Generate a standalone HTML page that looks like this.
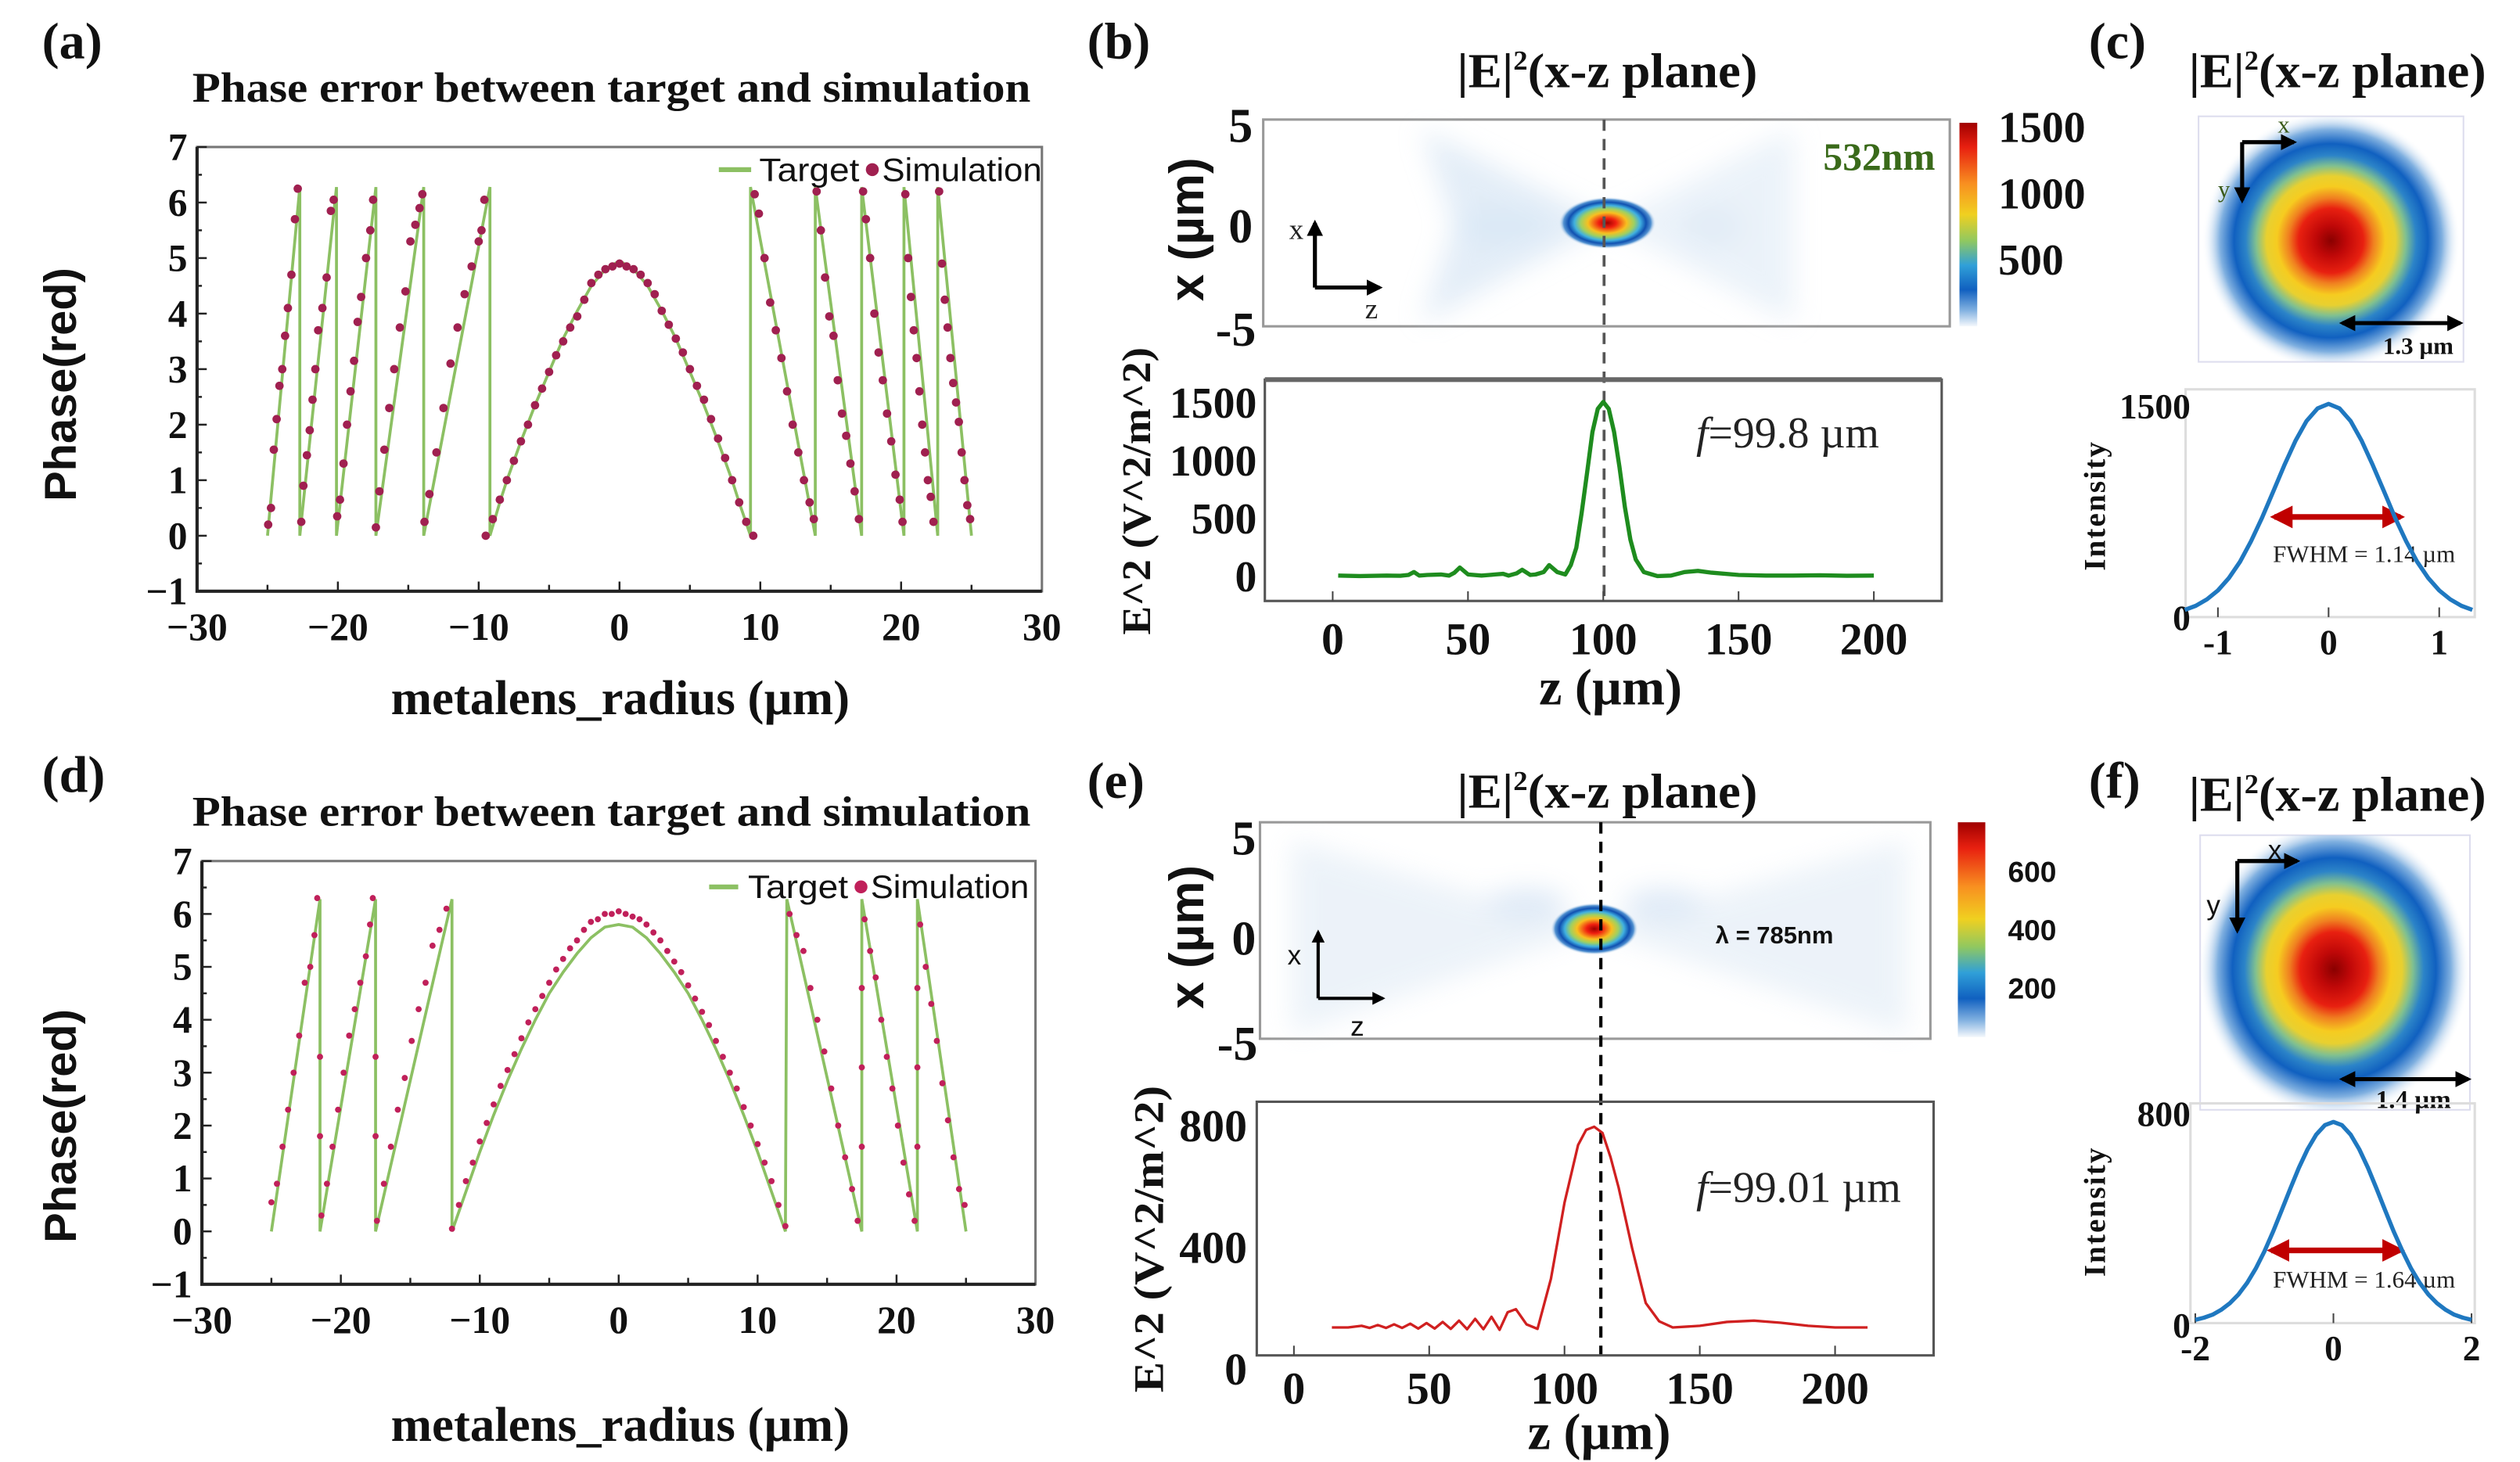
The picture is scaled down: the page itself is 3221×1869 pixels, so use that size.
<!DOCTYPE html>
<html><head><meta charset="utf-8"><title>Metalens phase and focusing figure</title>
<style>
html,body{margin:0;padding:0;background:#fff;}
svg{display:block;}
.serif{font-family:"Liberation Serif",serif;font-weight:bold;fill:#111;}
.sans{font-family:"Liberation Sans",sans-serif;font-weight:bold;fill:#111;}
.reg{font-family:"Liberation Serif",serif;fill:#222;}
</style></head>
<body>
<svg id="fig" xmlns="http://www.w3.org/2000/svg" width="3221" height="1869" viewBox="0 0 1560 905" preserveAspectRatio="none">
<defs>
  <linearGradient id="jetV" x1="0" y1="0" x2="0" y2="1">
    <stop offset="0" stop-color="#a00000"/><stop offset="0.12" stop-color="#e82010"/>
    <stop offset="0.3" stop-color="#f89020"/><stop offset="0.45" stop-color="#f0d020"/>
    <stop offset="0.58" stop-color="#90c860"/><stop offset="0.7" stop-color="#30a0d8"/>
    <stop offset="0.82" stop-color="#1060c0"/><stop offset="0.92" stop-color="#80b0e0"/>
    <stop offset="1" stop-color="#f4f8fc"/>
  </linearGradient>
  <radialGradient id="spot">
    <stop offset="0" stop-color="#a00000"/><stop offset="0.18" stop-color="#f02010"/>
    <stop offset="0.4" stop-color="#f8c020"/><stop offset="0.55" stop-color="#a0d060"/>
    <stop offset="0.68" stop-color="#40b0e0"/><stop offset="0.8" stop-color="#1050b0"/>
    <stop offset="0.9" stop-color="#5090d0"/><stop offset="1" stop-color="#e0ecf8" stop-opacity="0"/>
  </radialGradient>
  <radialGradient id="beam">
    <stop offset="0" stop-color="#8a0000"/><stop offset="0.12" stop-color="#c00808"/>
    <stop offset="0.25" stop-color="#e82010"/><stop offset="0.33" stop-color="#f08020"/>
    <stop offset="0.42" stop-color="#f6cc20"/><stop offset="0.5" stop-color="#e8d030"/>
    <stop offset="0.58" stop-color="#80c090"/><stop offset="0.66" stop-color="#2c84c8"/>
    <stop offset="0.75" stop-color="#1060c0"/><stop offset="0.86" stop-color="#80b0e0"/>
    <stop offset="1" stop-color="#ffffff" stop-opacity="0"/>
  </radialGradient>
  <clipPath id="clipC"><rect x="1361" y="72" width="164" height="152"/></clipPath>
  <clipPath id="clipF"><rect x="1362" y="517" width="167" height="170"/></clipPath>
  <filter id="blur8"><feGaussianBlur stdDeviation="8"/></filter>
  <marker id="ah" viewBox="0 0 10 10" refX="8" refY="5" markerWidth="4" markerHeight="4" orient="auto-start-reverse"><path d="M0,0 L10,5 L0,10 z" fill="#000"/></marker>
  <marker id="ahr" viewBox="0 0 10 10" refX="8" refY="5" markerWidth="4" markerHeight="4" orient="auto-start-reverse"><path d="M0,0 L10,5 L0,10 z" fill="#c00000"/></marker>
</defs>

<text class="serif" x="26" y="36" font-size="32">(a)</text>
<text class="serif" x="119" y="63" font-size="26" textLength="519" lengthAdjust="spacingAndGlyphs">Phase error between target and simulation</text>
<text class="serif" x="26" y="490" font-size="32">(d)</text>
<text class="serif" x="119" y="511" font-size="26" textLength="519" lengthAdjust="spacingAndGlyphs">Phase error between target and simulation</text>
<text class="serif" x="673" y="36" font-size="32">(b)</text>
<text class="serif" x="673" y="494" font-size="32">(e)</text>
<text class="serif" x="1293" y="36" font-size="32">(c)</text>
<text class="serif" x="1293" y="494" font-size="32">(f)</text>
<text class="serif" x="902" y="54" font-size="30" textLength="186" lengthAdjust="spacingAndGlyphs">|E|<tspan dy="-11" font-size="17">2</tspan><tspan dy="11">(x-z plane)</tspan></text>
<text class="serif" x="1355" y="54" font-size="30" textLength="184" lengthAdjust="spacingAndGlyphs">|E|<tspan dy="-11" font-size="17">2</tspan><tspan dy="11">(x-z plane)</tspan></text>
<text class="serif" x="902" y="500" font-size="30" textLength="186" lengthAdjust="spacingAndGlyphs">|E|<tspan dy="-11" font-size="17">2</tspan><tspan dy="11">(x-z plane)</tspan></text>
<text class="serif" x="1355" y="502" font-size="30" textLength="184" lengthAdjust="spacingAndGlyphs">|E|<tspan dy="-11" font-size="17">2</tspan><tspan dy="11">(x-z plane)</tspan></text>

<text class="serif" x="384" y="442" font-size="30" text-anchor="middle" textLength="284" lengthAdjust="spacingAndGlyphs">metalens_radius (µm)</text>
<text class="serif" x="384" y="892" font-size="30" text-anchor="middle" textLength="284" lengthAdjust="spacingAndGlyphs">metalens_radius (µm)</text>
<text class="sans" transform="translate(47,238) rotate(-90)" font-size="28" text-anchor="middle">Phase(red)</text>
<text class="sans" transform="translate(47,697) rotate(-90)" font-size="28" text-anchor="middle">Phase(red)</text>

<g>
  <line x1="445" y1="105" x2="465" y2="105" stroke="#8cc063" stroke-width="3"/>
  <text class="sans" x="470" y="112" font-size="20" textLength="62" lengthAdjust="spacingAndGlyphs" style="font-weight:normal">Target</text>
  <circle cx="540" cy="105" r="4" fill="#a02050"/>
  <text class="sans" x="546" y="112" font-size="20" textLength="99" lengthAdjust="spacingAndGlyphs" style="font-weight:normal">Simulation</text>
</g>
<g>
  <line x1="439" y1="549" x2="457" y2="549" stroke="#8cc063" stroke-width="3"/>
  <text class="sans" x="463" y="556" font-size="20" textLength="62" lengthAdjust="spacingAndGlyphs" style="font-weight:normal">Target</text>
  <circle cx="533" cy="549" r="4" fill="#c0205a"/>
  <text class="sans" x="539" y="556" font-size="20" textLength="98" lengthAdjust="spacingAndGlyphs" style="font-weight:normal">Simulation</text>
</g>

<g>
  <rect x="782" y="74" width="425" height="128" fill="#fff" stroke="#999" stroke-width="1.5"/>
  <g filter="url(#blur8)" opacity="0.5">
    <polygon points="880,80 995,138 880,200 900,140" fill="#c8dcf0"/>
    <polygon points="995,138 1110,80 1110,200" fill="#d8e6f4"/>
    <ellipse cx="930" cy="140" rx="30" ry="12" fill="#b8d4ee"/>
    <ellipse cx="1060" cy="140" rx="20" ry="14" fill="#c8dcf0"/>
  </g>
  <ellipse cx="995" cy="138" rx="30" ry="16" fill="url(#spot)"/>
  <rect x="1213" y="76" width="11" height="126" fill="url(#jetV)"/>
  <text class="serif" x="1237" y="88" font-size="27">1500</text>
  <text class="serif" x="1237" y="129" font-size="27">1000</text>
  <text class="serif" x="1237" y="170" font-size="27">500</text>
  <text class="serif" x="1198" y="105" font-size="24" text-anchor="end" style="fill:#3a6a1a">532nm</text>
  <text class="serif" x="768" y="88" font-size="30" text-anchor="middle">5</text>
  <text class="serif" x="768" y="150" font-size="30" text-anchor="middle">0</text>
  <text class="serif" x="765" y="214" font-size="30" text-anchor="middle">-5</text>
  <text class="sans" transform="translate(745,142) rotate(-90)" font-size="30" text-anchor="middle">x (µm)</text>
  <line x1="814" y1="178" x2="814" y2="138" stroke="#000" stroke-width="2.5" marker-end="url(#ah)"/>
  <line x1="814" y1="178" x2="854" y2="178" stroke="#000" stroke-width="2.5" marker-end="url(#ah)"/>
  <text class="reg" x="798" y="148" font-size="18">x</text>
  <text class="reg" x="845" y="197" font-size="18">z</text>
</g>
<line x1="993" y1="74" x2="993" y2="372" stroke="#555" stroke-width="1.8" stroke-dasharray="7,5"/>

<g>
  <rect x="780" y="509" width="415" height="134" fill="#fff" stroke="#999" stroke-width="1.5"/>
  <g filter="url(#blur8)" opacity="0.45">
    <polygon points="800,520 987,575 800,640" fill="#d6e4f2"/>
    <polygon points="987,575 1180,520 1180,640" fill="#d6e4f2"/>
    <ellipse cx="1030" cy="560" rx="25" ry="10" fill="#b8d0ec"/>
    <ellipse cx="945" cy="560" rx="25" ry="10" fill="#b8d0ec"/>
  </g>
  <ellipse cx="987" cy="575" rx="27" ry="16" fill="url(#spot)"/>
  <rect x="1212" y="509" width="17" height="133" fill="url(#jetV)"/>
  <text class="sans" x="1243" y="546" font-size="18">600</text>
  <text class="sans" x="1243" y="582" font-size="18">400</text>
  <text class="sans" x="1243" y="618" font-size="18">200</text>
  <text class="sans" x="1062" y="584" font-size="15">λ = 785nm</text>
  <text class="serif" x="770" y="529" font-size="30" text-anchor="middle">5</text>
  <text class="serif" x="770" y="591" font-size="30" text-anchor="middle">0</text>
  <text class="serif" x="766" y="656" font-size="30" text-anchor="middle">-5</text>
  <text class="sans" transform="translate(745,580) rotate(-90)" font-size="30" text-anchor="middle">x (µm)</text>
  <line x1="816" y1="618" x2="816" y2="577" stroke="#000" stroke-width="2" marker-end="url(#ah)"/>
  <line x1="816" y1="618" x2="856" y2="618" stroke="#000" stroke-width="2" marker-end="url(#ah)"/>
  <text class="sans" x="797" y="597" font-size="17" style="font-weight:normal">x</text>
  <text class="sans" x="836" y="641" font-size="17" style="font-weight:normal">z</text>
</g>
<line x1="991" y1="509" x2="991" y2="839" stroke="#000" stroke-width="2" stroke-dasharray="7,5"/>

<g>
  <rect x="1361" y="72" width="164" height="152" fill="#ffffff" stroke="#dde" stroke-width="1"/>
  <g clip-path="url(#clipC)"><ellipse cx="1443" cy="149" rx="80" ry="80" fill="url(#beam)"/></g>
  <line x1="1388" y1="88" x2="1420" y2="88" stroke="#000" stroke-width="2.5" marker-end="url(#ah)"/>
  <line x1="1388" y1="88" x2="1388" y2="124" stroke="#000" stroke-width="2.5" marker-end="url(#ah)"/>
  <text class="reg" x="1410" y="82" font-size="15" style="fill:#3a5a1a">x</text>
  <text class="reg" x="1373" y="122" font-size="15" style="fill:#3a5a1a">y</text>
  <line x1="1450" y1="200" x2="1523" y2="200" stroke="#000" stroke-width="2.5" marker-start="url(#ah)" marker-end="url(#ah)"/>
  <text class="serif" x="1497" y="219" font-size="15" text-anchor="middle">1.3 µm</text>
</g>
<g>
  <rect x="1362" y="517" width="167" height="170" fill="#ffffff" stroke="#dde" stroke-width="1"/>
  <g clip-path="url(#clipF)"><ellipse cx="1445" cy="600" rx="84" ry="92" fill="url(#beam)"/></g>
  <line x1="1385" y1="533" x2="1422" y2="533" stroke="#000" stroke-width="2.5" marker-end="url(#ah)"/>
  <line x1="1385" y1="533" x2="1385" y2="576" stroke="#000" stroke-width="2.5" marker-end="url(#ah)"/>
  <text class="sans" x="1404" y="532" font-size="17" style="font-weight:normal">x</text>
  <text class="sans" x="1366" y="566" font-size="17" style="font-weight:normal">y</text>
  <line x1="1450" y1="668" x2="1528" y2="668" stroke="#000" stroke-width="2.5" marker-start="url(#ah)" marker-end="url(#ah)"/>
  <text class="serif" x="1494" y="686" font-size="16" text-anchor="middle">1.4 µm</text>
</g>

<text class="serif" x="997" y="436" font-size="32" text-anchor="middle">z (µm)</text>
<text class="serif" x="990" y="897" font-size="32" text-anchor="middle">z (µm)</text>
<text class="serif" transform="translate(712,304) rotate(-90)" font-size="25" text-anchor="middle" textLength="178" lengthAdjust="spacingAndGlyphs">E^2 (V^2/m^2)</text>
<text class="serif" transform="translate(720,767) rotate(-90)" font-size="26" text-anchor="middle" textLength="190" lengthAdjust="spacingAndGlyphs">E^2 (V^2/m^2)</text>
<text class="reg" x="1050" y="277" font-size="27"><tspan font-style="italic">f</tspan>=99.8 µm</text>
<text class="reg" x="1050" y="744" font-size="27"><tspan font-style="italic">f</tspan>=99.01 µm</text>
<text class="serif" transform="translate(1303,313) rotate(-90)" font-size="19" text-anchor="middle" letter-spacing="1">Intensity</text>
<text class="serif" transform="translate(1303,750) rotate(-90)" font-size="19" text-anchor="middle" letter-spacing="1">Intensity</text>
<line x1="1408" y1="320" x2="1486" y2="320" stroke="#c00000" stroke-width="3.5" marker-start="url(#ahr)" marker-end="url(#ahr)"/>
<text class="reg" x="1407" y="348" font-size="15">FWHM = 1.14 µm</text>
<line x1="1406" y1="774" x2="1486" y2="774" stroke="#c00000" stroke-width="3.5" marker-start="url(#ahr)" marker-end="url(#ahr)"/>
<text class="reg" x="1407" y="797" font-size="15">FWHM = 1.64 µm</text>

<g id="dyn"></g>
</svg>

<script>
const aXTicks = [-30,-20,-10,0,10,20,30];
const aYTicks = [-1,0,1,2,3,4,5,6,7];
const aTargetX = [-25,-22.7,-22.7,-20.1,-20.1,-17.3,-17.3,-13.9,-13.9,-9.2,-9.2,-8.5,-8,-7,-6,-5,-4,-3,-2,-1,0,1,2,3,4,5,6,7,8,8.5,9.3,9.3,13.9,13.9,17.2,17.2,20.2,20.2,22.6,22.6,25];
const aTargetY = [0,6.28,0,6.28,0,6.28,0,6.28,0,6.28,0,0.6,1.0,1.7,2.35,2.95,3.55,4.05,4.5,4.8,4.95,4.8,4.5,4.05,3.55,2.95,2.35,1.7,1.0,0.6,0,6.28,0,6.28,0,6.28,0,6.28,0,6.28,0];
const aSimX = [-24.95,-24.75,-24.55,-24.35,-24.15,-23.95,-23.75,-23.55,-23.3,-23.05,-22.85,
 -22.6,-22.45,-22.2,-22.0,-21.8,-21.6,-21.4,-21.1,-20.8,-20.5,-20.3,
 -20.05,-19.85,-19.6,-19.35,-19.1,-18.85,-18.6,-18.35,-18.0,-17.7,-17.5,
 -17.3,-17.05,-16.7,-16.35,-16.0,-15.6,-15.2,-14.85,-14.5,-14.2,-14.0,
 -13.85,-13.5,-13.0,-12.5,-12.0,-11.5,-11.0,-10.5,-10.0,-9.8,-9.6,
 -9.5,-9,-8.5,-8,-7.5,-7,-6.5,-6,-5.5,-5,-4.5,-4,-3.5,-3,-2.5,-2,-1.5,-1,-0.5,0,0.5,1,1.5,2,2.5,3,3.5,4,4.5,5,5.5,6,6.5,7,7.5,8,8.5,9,9.5,
 9.6,9.9,10.3,10.7,11.1,11.5,11.9,12.3,12.7,13.1,13.5,13.8,
 14.0,14.3,14.6,14.9,15.2,15.5,15.8,16.1,16.4,16.7,17.0,
 17.3,17.5,17.8,18.1,18.4,18.7,19.0,19.3,19.6,19.9,20.1,
 20.3,20.5,20.7,20.9,21.1,21.3,21.5,21.7,21.9,22.1,22.3,
 22.7,22.9,23.1,23.3,23.5,23.7,23.9,24.1,24.3,24.5,24.7,24.9];
const aSimY = [0.2,0.5,1.55,2.1,2.7,3.0,3.6,4.1,4.7,5.7,6.25,
 0.25,0.9,1.45,1.9,2.45,3.0,3.7,4.1,4.65,5.85,6.05,
 0.35,0.65,1.3,2.0,2.6,3.15,3.85,4.3,5.0,5.5,6.05,
 0.15,0.8,1.55,2.3,3.0,3.75,4.4,5.3,5.6,5.9,6.15,
 0.25,0.75,1.5,2.3,3.1,3.75,4.35,4.85,5.3,5.5,6.05,
 0.0,0.3,0.65,1.0,1.35,1.7,2.0,2.35,2.65,2.95,3.25,3.5,3.75,3.95,4.25,4.55,4.7,4.8,4.85,4.9,4.85,4.8,4.7,4.55,4.35,4.05,3.8,3.55,3.3,3.0,2.7,2.45,2.1,1.75,1.4,1.0,0.6,0.25,0.0,
 6.15,5.8,5.0,4.2,3.7,3.2,2.6,2.0,1.5,1.0,0.6,0.3,
 6.2,5.5,4.65,3.95,3.6,2.8,2.2,1.8,1.3,0.8,0.3,
 6.2,5.7,5.0,4.0,3.3,2.8,2.2,1.7,1.1,0.65,0.25,
 6.15,5.0,4.3,3.7,3.2,2.6,2.0,1.5,1.0,0.7,0.25,
 6.2,4.9,4.25,3.75,3.2,2.75,2.4,2.05,1.5,1.0,0.55,0.3];

const dTargetX = [-25,-21.5,-21.5,-17.5,-17.5,-12,-12,-11,-10,-9,-8,-7,-6,-5,-4,-3,-2,-1,0,1,2,3,4,5,6,7,8,9,10,11,12,12.1,17.5,17.5,21.5,21.5,25];
const dTargetY = [0,6.28,0,6.28,0,6.28,0,0.75,1.5,2.2,2.85,3.45,4.0,4.5,4.9,5.25,5.55,5.75,5.8,5.75,5.55,5.25,4.9,4.5,4.0,3.45,2.85,2.2,1.5,0.75,0,6.28,0,6.28,0,6.28,0];
const dSimX = [-25,-24.6,-24.2,-23.8,-23.4,-23.0,-22.6,-22.2,-21.9,-21.7,-21.5,-21.5,
 -21.4,-21.0,-20.6,-20.2,-19.8,-19.4,-19.0,-18.6,-18.2,-17.9,-17.7,-17.5,-17.5,
 -17.4,-16.9,-16.4,-15.9,-15.4,-14.9,-14.4,-13.9,-13.4,-12.9,-12.4,
 -12,-11.5,-11,-10.5,-10,-9.5,-9,-8.5,-8,-7.5,-7,-6.5,-6,-5.5,-5,-4.5,-4,-3.5,-3,-2.5,-2,-1.5,-1,-0.5,0,0.5,1,1.5,2,2.5,3,3.5,4,4.5,5,5.5,6,6.5,7,7.5,8,8.5,9,9.5,10,10.5,11,11.5,12,
 12.3,12.8,13.3,13.8,14.3,14.8,15.3,15.8,16.3,16.8,17.2,17.5,17.5,17.5,
 17.7,18.1,18.5,18.9,19.3,19.7,20.1,20.5,20.9,21.3,21.5,21.5,21.5,
 21.7,22.1,22.5,22.9,23.3,23.7,24.1,24.5,24.9];
const dSimY = [0.55,0.9,1.6,2.3,3.0,3.7,4.7,5.0,5.6,6.3,3.3,1.8,
 0.3,0.9,1.6,2.3,3.0,3.7,4.2,4.7,5.2,5.8,6.3,3.3,1.8,
 0.2,0.9,1.6,2.3,2.9,3.6,4.2,4.7,5.4,5.7,6.1,
 0.05,0.5,0.95,1.3,1.7,2.05,2.4,2.75,3.05,3.35,3.65,3.95,4.2,4.45,4.7,4.95,5.15,5.35,5.5,5.7,5.85,5.9,6.0,6.0,6.05,6.0,5.95,5.9,5.8,5.65,5.5,5.3,5.1,4.9,4.65,4.4,4.15,3.9,3.6,3.3,3.0,2.7,2.35,2.0,1.65,1.3,0.95,0.5,0.1,
 6.0,5.6,5.3,4.6,4.0,3.4,2.7,2.0,1.4,0.8,0.2,4.6,3.1,1.6,
 5.9,5.3,4.8,4.0,3.3,2.7,2.0,1.3,0.7,0.2,4.6,3.1,1.6,
 5.8,5.0,4.3,3.6,2.8,2.1,1.4,0.8,0.5];

const bXTicks = [0,50,100,150,200];
const bYTicks = [0,500,1000,1500];
const bZ = [2,10,20,25,28,30,32,35,40,43,45,47,50,55,58,60,63,65,68,70,73,75,78,80,83,86,88,90,92,94,96,98,100,102,104,106,108,110,112,115,118,120,125,130,135,140,150,160,170,180,190,200];
const bE = [10,5,10,8,15,40,10,15,20,10,35,80,20,10,15,20,25,10,30,60,15,20,40,100,40,20,100,250,550,900,1250,1450,1510,1450,1250,950,600,320,150,40,20,5,10,40,50,35,15,10,10,12,8,10];

const eXTicks = [0,50,100,150,200];
const eYTicks = [0,400,800];
const eZ = [14,20,25,28,31,34,37,40,43,46,49,52,55,58,61,64,67,70,73,76,79,82,86,90,95,100,105,108,111,114,117,120,125,130,135,140,150,160,170,180,190,200,212];
const eE = [140,140,145,138,148,138,150,138,152,136,154,136,158,135,162,134,168,134,175,132,190,200,150,135,300,550,740,790,800,780,700,600,400,220,160,140,145,158,162,155,145,140,140];

const cXTicks = [-1,0,1];
const cYTicks = [0,1500];
const cX = [-1.3,-1.2,-1.1,-1.0,-0.9,-0.8,-0.7,-0.6,-0.5,-0.4,-0.3,-0.2,-0.1,0,0.1,0.2,0.3,0.4,0.5,0.6,0.7,0.8,0.9,1.0,1.1,1.2,1.3];
const cI = [40,69,114,177,266,381,527,695,880,1065,1238,1377,1468,1500,1468,1377,1238,1065,880,695,527,381,266,177,114,69,40];

const fXTicks = [-2,0,2];
const fYTicks = [0,800];
const fX = [-2,-1.875,-1.75,-1.625,-1.5,-1.375,-1.25,-1.125,-1,-0.875,-0.75,-0.625,-0.5,-0.375,-0.25,-0.125,0,0.125,0.25,0.375,0.5,0.625,0.75,0.875,1,1.125,1.25,1.375,1.5,1.625,1.75,1.875,2];
const fI = [12,20,32,50,75,108,152,206,271,345,425,508,587,657,712,748,760,748,712,657,587,508,425,345,271,206,152,108,75,50,32,20,12];

const NS = 'http://www.w3.org/2000/svg';
const root = document.getElementById('dyn');
function mk(tag, attrs){ const e=document.createElementNS(NS,tag); for(const k in attrs) e.setAttribute(k,attrs[k]); root.appendChild(e); return e; }
function lin(d0,d1,r0,r1){ return v => r0 + (v-d0)/(d1-d0)*(r1-r0); }
function fmtMinus(v){ return v<0 ? '\u2212'+Math.abs(v) : String(v); }

function phasePanel(tag, box, tx, ty, sx, sy, simColor, dotR){
  const X = lin(-30,30,box.x0,box.x1), Y = lin(-1,7,box.y1,box.y0);
  const fr = mk('rect',{x:box.x0,y:box.y0,width:box.x1-box.x0,height:box.y1-box.y0,fill:'none',stroke:'#777','stroke-width':1.5});
  
  
  const ax = mk('path',{d:`M${box.x0},${box.y0} V${box.y1} H${box.x1}`,fill:'none',stroke:'#222','stroke-width':2});
  
  
  for(let v=-1; v<=7.001; v+=0.5){
    const tk = mk('line',{x1:box.x0,x2:box.x0+(Number.isInteger(v)?6:3),y1:Y(v),y2:Y(v),stroke:'#222','stroke-width':1.2});
    
    
  }
  for(let v=-25; v<=25; v+=5){
    const tk = mk('line',{x1:X(v),x2:X(v),y1:box.y1,y2:box.y1-(v%10===0?6:4),stroke:'#222','stroke-width':1.2});
    
    
  }
  aYTicks.forEach(v=>{
    const t = mk('text',{x:box.x0-6,y:Y(v)+8,'font-size':24,'text-anchor':'end',class:'serif'});
    t.textContent = fmtMinus(v);
    
    
  });
  aXTicks.forEach(v=>{
    const t = mk('text',{x:X(v),y:box.y1+30,'font-size':24,'text-anchor':'middle',class:'serif'});
    t.textContent = fmtMinus(v);
    
    
  });
  const tl = mk('polyline',{points:tx.map((v,i)=>X(v).toFixed(1)+','+Y(ty[i]).toFixed(1)).join(' '),fill:'none',stroke:'#8cc063','stroke-width':1.8});
  
  
  sx.forEach((v,i)=>{
    const c = mk('circle',{cx:X(v),cy:Y(sy[i]),r:dotR,fill:simColor});
    
    
  });
}
phasePanel('a', {x0:122,x1:645,y0:91,y1:366}, aTargetX, aTargetY, aSimX, aSimY, '#a02050', 2.6);
phasePanel('d', {x0:125,x1:641,y0:533,y1:795}, dTargetX, dTargetY, dSimX, dSimY, '#c0205a', 1.9);

function linePanel(tag, box, X, Y, xt, yt, xs, ys, color, width, fsX, fsY, xLabY, yLabX, frameColor){
  const fr = mk('rect',{x:box.x0,y:box.y0,width:box.x1-box.x0,height:box.y1-box.y0,fill:'none',stroke:frameColor,'stroke-width':1.5});
  
  
  xt.forEach(v=>{
    const tk = mk('line',{x1:X(v),x2:X(v),y1:box.y1,y2:box.y1-6,stroke:'#444','stroke-width':1});
    
    
    const t = mk('text',{x:X(v),y:xLabY,'font-size':fsX,'text-anchor':'middle',class:'serif'});
    t.textContent = String(v);
    
    
  });
  yt.forEach(v=>{
    const t = mk('text',{x:yLabX,y:Y(v)+9,'font-size':fsY,'text-anchor':'end',class:'serif'});
    t.textContent = String(v);
    
    
  });
  const pl = mk('polyline',{points:xs.map((v,i)=>X(v).toFixed(1)+','+Y(ys[i]).toFixed(1)).join(' '),fill:'none',stroke:color,'stroke-width':width,'stroke-linejoin':'round'});
  
  
}
linePanel('b', {x0:783,x1:1202,y0:235,y1:372}, lin(0,200,825,1160), lin(0,1500,357,249.5), bXTicks, bYTicks, bZ, bE, '#1e8c1e', 2.6, 28, 27, 405, 778, '#555');
const topB = mk('line',{x1:783,x2:1202,y1:235,y2:235,stroke:'#666','stroke-width':3});


linePanel('e', {x0:778,x1:1197,y0:682,y1:839}, lin(0,200,801,1136), lin(0,800,848,697.5), eXTicks, eYTicks, eZ, eE, '#d02020', 1.6, 28, 28, 869, 772, '#555');
linePanel('c', {x0:1353,x1:1532,y0:241,y1:382}, lin(-1,1,1373,1510), lin(0,1500,381,250), cXTicks, cYTicks, cX, cI, '#1f78c0', 2.6, 22, 22, 405, 1356, '#ddd');
linePanel('f', {x0:1356,x1:1532,y0:683,y1:819}, lin(-2,2,1359,1530), lin(0,800,819,688), fXTicks, fYTicks, fX, fI, '#1f78c0', 2.6, 22, 22, 842, 1356, '#ddd');
</script>
</body></html>
